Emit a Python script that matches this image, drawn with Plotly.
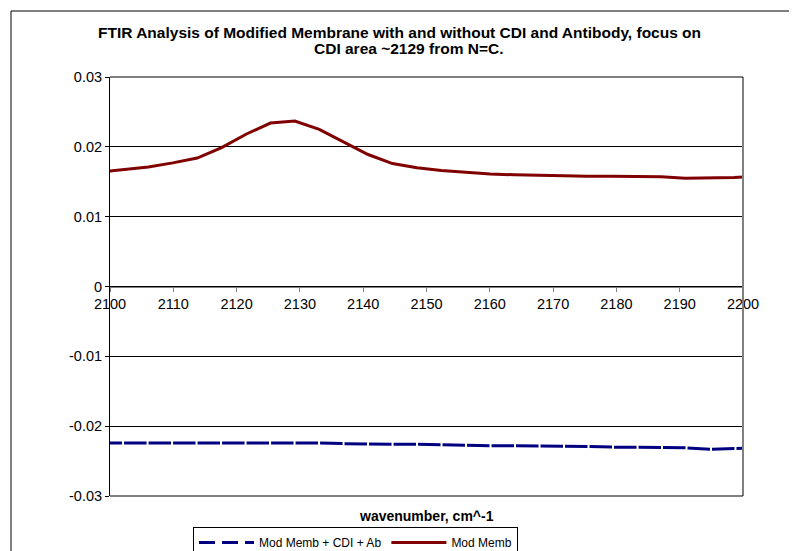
import plotly.graph_objects as go

# Wavenumbers (cm^-1) of the spectrum points
wavenumber = [2098.35, 2102.21, 2106.06, 2109.92, 2113.78, 2117.63, 2121.49, 2125.35,
              2129.20, 2133.06, 2136.92, 2140.77, 2144.63, 2148.49, 2152.34, 2156.20,
              2160.06, 2163.91, 2167.77, 2171.63, 2175.48, 2179.34, 2183.20, 2187.05,
              2190.91, 2194.77, 2198.62, 2202.48]

mod_memb_cdi_ab = [-0.0224, -0.0224, -0.0224, -0.0224, -0.0223, -0.0223, -0.0224, -0.0224,
                   -0.0224, -0.0224, -0.0225, -0.0226, -0.0226, -0.0226, -0.0227, -0.0227,
                   -0.0228, -0.0228, -0.0228, -0.0229, -0.0229, -0.0230, -0.0230, -0.0231,
                   -0.0231, -0.0233, -0.0232, -0.0231]

mod_memb = [0.0164, 0.0168, 0.0171, 0.0177, 0.0184, 0.0199, 0.0218, 0.0234,
            0.0237, 0.0225, 0.0207, 0.0189, 0.0176, 0.0170, 0.0166, 0.0163,
            0.0161, 0.0160, 0.0159, 0.0158, 0.0158, 0.0158, 0.0158, 0.0157,
            0.0155, 0.0155, 0.0156, 0.0158]

series_names = ["Mod Memb + CDI + Ab", "Mod Memb"]
y_tick_values = [-0.03, -0.02, -0.01, 0, 0.01, 0.02, 0.03]
y_tick_labels = ["-0.03", "-0.02", "-0.01", "0", "0.01", "0.02", "0.03"]
x_tick_values = [2100, 2110, 2120, 2130, 2140, 2150, 2160, 2170, 2180, 2190, 2200]
x_tick_labels = ["2100", "2110", "2120", "2130", "2140", "2150", "2160", "2170", "2180", "2190", "2200"]

title_lines = ["FTIR Analysis of Modified Membrane with and without CDI and Antibody, focus on",
               "CDI area ~2129 from N=C."]
x_title = "wavenumber, cm^-1"

BLUE = "#000080"
RED = "#800000"
FONT = "Liberation Sans, Arial, sans-serif"

# The page body has an 8px margin, so the figure is drawn 8px in from the window corner.
OFF = 8
W, H = 797 - OFF, 551 - OFF
# plot area in window pixels: x 110..743, y 77..496
L = 110 - OFF
T = 77 - OFF
R = W - (743 - OFF)
B = H - (496 - OFF)


def py(win_y):
    """window pixel row -> paper y"""
    return (H - B - (win_y - OFF)) / (H - T - B)


def px(win_x):
    return ((win_x - OFF) - L) / (W - L - R)


fig = go.Figure()

fig.add_trace(go.Scatter(x=wavenumber, y=mod_memb_cdi_ab, mode="lines",
                         line=dict(color=BLUE, width=3, dash="22.5px,2px"),
                         showlegend=False, legendgroup="a"))
fig.add_trace(go.Scatter(x=[None], y=[None], mode="lines", name=series_names[0],
                         line=dict(color=BLUE, width=3, dash="16px,7px"),
                         legendgroup="a"))
fig.add_trace(go.Scatter(x=wavenumber, y=mod_memb, mode="lines", name=series_names[1],
                         line=dict(color=RED, width=3)))

fig.update_layout(
    width=W, height=H,
    margin=dict(l=L, r=R, t=T, b=B, autoexpand=False),
    plot_bgcolor="white", paper_bgcolor="white",
    font=dict(family=FONT, size=14, color="black"),
    showlegend=True,
    legend=dict(orientation="h", xref="container", yref="container",
                x=(193 - OFF) / W, y=1 - (527 - OFF) / H, xanchor="left", yanchor="top",
                bordercolor="black", borderwidth=1, bgcolor="white",
                font=dict(size=12, family=FONT), traceorder="normal", itemwidth=55),
    xaxis=dict(range=[2100, 2200], tickvals=x_tick_values, ticktext=x_tick_labels,
               anchor="free", position=0.5, showline=True, linecolor="#808080", linewidth=1,
               ticks="outside", ticklen=4, tickcolor="#808080", showgrid=False,
               zeroline=False, tickfont=dict(size=14.5, color="black")),
    yaxis=dict(range=[-0.03, 0.03], tickvals=y_tick_values, ticktext=y_tick_labels,
               showgrid=True, gridcolor="black", gridwidth=1, showline=True,
               linecolor="black", linewidth=1, ticks="outside", ticklen=4,
               tickcolor="black", zeroline=False, tickfont=dict(size=14.5, color="black")),
    annotations=[
        dict(text="<b>" + title_lines[0] + "</b>", xref="paper", yref="paper",
             x=px(399), y=py(32), xanchor="center", yanchor="middle",
             showarrow=False, font=dict(size=15.5, family=FONT, color="black")),
        dict(text="<b>" + title_lines[1] + "</b>", xref="paper", yref="paper",
             x=px(409), y=py(49), xanchor="center", yanchor="middle",
             showarrow=False, font=dict(size=15.5, family=FONT, color="black")),
        dict(text="<b>" + x_title + "</b>", xref="paper", yref="paper", x=px(426), y=py(516),
             xanchor="center", yanchor="middle", showarrow=False,
             font=dict(size=14, family=FONT, color="black")),
    ],
    shapes=[
        dict(type="line", xref="paper", yref="paper", x0=1, x1=1, y0=0, y1=1,
             line=dict(color="#808080", width=2)),
        dict(type="line", xref="paper", yref="paper", x0=0, x1=1, y0=1, y1=1,
             line=dict(color="black", width=1)),
        dict(type="line", xref="paper", yref="paper", x0=0, x1=1, y0=0, y1=0,
             line=dict(color="black", width=1)),
        dict(type="rect", xref="paper", yref="paper", x0=px(11), x1=px(900), y0=py(700),
             y1=py(11), line=dict(color="black", width=1), layer="below"),
    ],
)

fig.write_html("out.html")
